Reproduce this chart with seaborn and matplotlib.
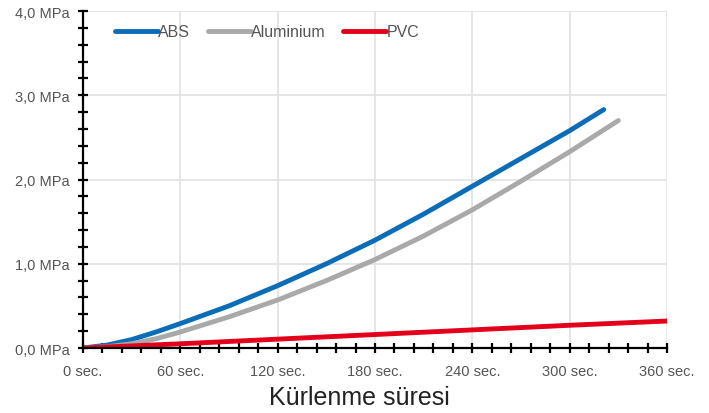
import numpy as np
import pandas as pd
import matplotlib
matplotlib.use("Agg")
import matplotlib.pyplot as plt
from matplotlib.ticker import MultipleLocator, FuncFormatter
import seaborn as sns

# Data (seconds, MPa)
abs_sec = [0, 15, 30, 45, 60, 90, 120, 150, 180, 210, 240, 270, 300, 321]
abs_mpa = [0.0, 0.035, 0.10, 0.19, 0.29, 0.50, 0.74, 1.00, 1.28, 1.59, 1.92, 2.25, 2.58, 2.83]
alu_sec = [0, 15, 30, 45, 60, 90, 120, 150, 180, 210, 240, 270, 300, 330]
alu_mpa = [0.0, 0.015, 0.05, 0.11, 0.19, 0.37, 0.57, 0.80, 1.05, 1.33, 1.64, 1.98, 2.33, 2.70]
pvc_sec = [0, 60, 120, 180, 240, 300, 360]
pvc_mpa = [0.0, 0.05, 0.105, 0.16, 0.215, 0.27, 0.32]

series = ["ABS", "Aluminium", "PVC"]
colors = ["#0b6db7", "#a9a9a9", "#e2001a"]

df = pd.concat([
    pd.DataFrame({"t": abs_sec, "p": abs_mpa, "malzeme": "ABS"}),
    pd.DataFrame({"t": alu_sec, "p": alu_mpa, "malzeme": "Aluminium"}),
    pd.DataFrame({"t": pvc_sec, "p": pvc_mpa, "malzeme": "PVC"}),
])

sns.set_style("white")
plt.rcParams["font.family"] = ["Liberation Sans", "DejaVu Sans"]

fig = plt.figure(figsize=(7.09, 4.14), dpi=100)
ax = fig.add_axes([0.1171, 0.157, 0.8237, 0.814])

sns.lineplot(data=df, x="t", y="p", hue="malzeme", hue_order=series,
             palette=colors, linewidth=3.5, ax=ax, sort=True,
             solid_capstyle="round", solid_joinstyle="round")

ax.set_xlim(0, 360)
ax.set_ylim(0, 4.0)
ax.xaxis.set_major_locator(MultipleLocator(60))
ax.xaxis.set_minor_locator(MultipleLocator(12))
ax.yaxis.set_major_locator(MultipleLocator(1.0))
ax.yaxis.set_minor_locator(MultipleLocator(0.2))
ax.xaxis.set_major_formatter(FuncFormatter(lambda v, p: f"{int(v)} sec."))
ax.yaxis.set_major_formatter(FuncFormatter(lambda v, p: f"{v:.1f} MPa".replace(".", ",")))

ax.grid(True, which="major", color="#e2e2e2", linewidth=1.2)
for s in ["top", "right"]:
    ax.spines[s].set_visible(False)
for s in ["left", "bottom"]:
    ax.spines[s].set_color("black")
    ax.spines[s].set_linewidth(1.6)
ax.tick_params(which="both", direction="inout", color="black", width=1.6,
               labelsize=10.5, labelcolor="#555555", bottom=True, left=True)
ax.tick_params(which="both", length=7)
ax.tick_params(axis="y", which="major", pad=6)
ax.tick_params(axis="x", which="major", pad=8)

ax.set_xlabel("Kürlenme süresi", fontsize=18, color="#222222")
ax.xaxis.set_label_coords(0.474, -0.145)
ax.xaxis.label.set_va("center")
ax.set_ylabel("")

ax.legend(loc="center left", bbox_to_anchor=(0.055, 0.938), ncol=3, frameon=False,
          borderpad=0, borderaxespad=0, handlelength=2.7, handletextpad=0.0,
          columnspacing=1.1, fontsize=11.5, labelcolor="#555555")

fig.savefig("out.png", dpi=100)
